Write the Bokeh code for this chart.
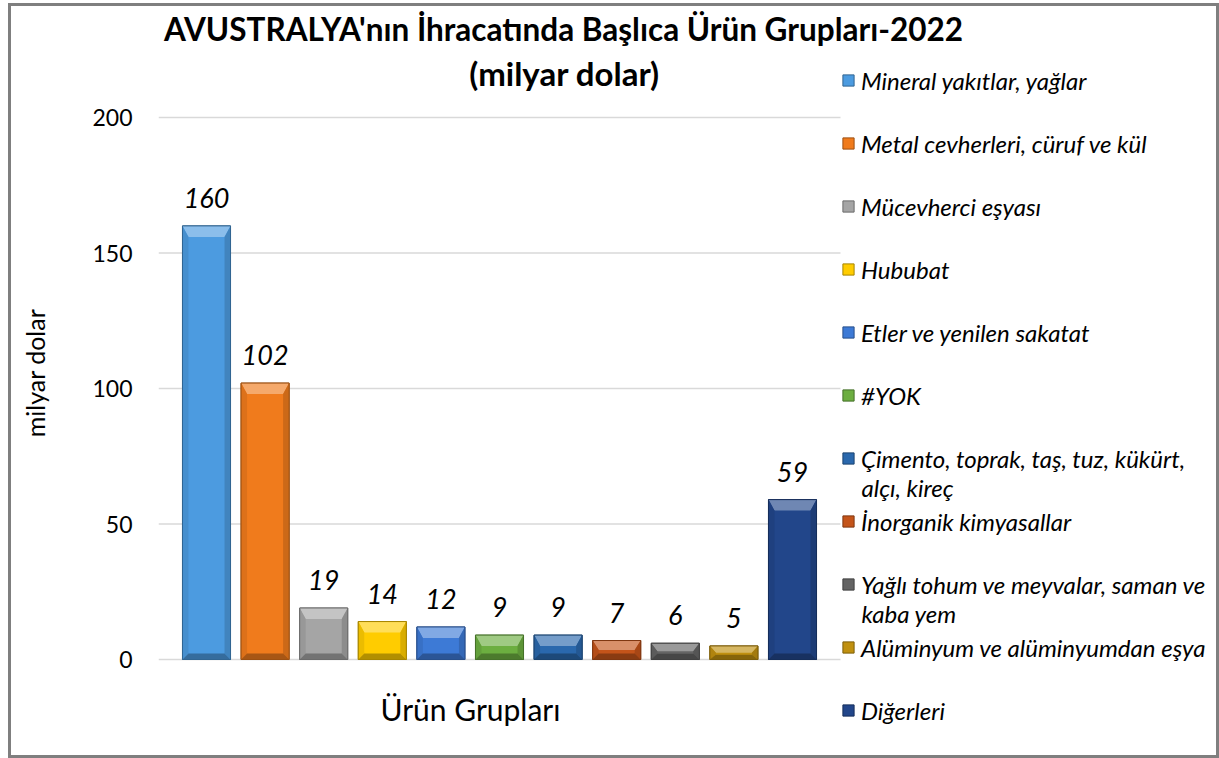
import textwrap
import numpy as np
from bokeh.plotting import figure
from bokeh.models import Range1d, Legend, LegendItem, Label, ColumnDataSource, FixedTicker
from bokeh.embed import file_html
from bokeh.resources import INLINE
from bokeh.core.properties import value

# ---- data ----
title_line1 = "AVUSTRALYA'nın İhracatında Başlıca Ürün Grupları-2022"
title_line2 = "(milyar dolar)"
y_title = "milyar dolar"
x_title = "Ürün Grupları"
categories = [
    "Mineral yakıtlar, yağlar",
    "Metal cevherleri, cüruf ve kül",
    "Mücevherci eşyası",
    "Hububat",
    "Etler ve yenilen sakatat",
    "#YOK",
    "Çimento, toprak, taş, tuz, kükürt, alçı, kireç",
    "İnorganik kimyasallar",
    "Yağlı tohum ve meyvalar, saman ve kaba yem",
    "Alüminyum ve alüminyumdan eşya",
    "Diğerleri",
]
values = [160, 102, 19, 14, 12, 9, 9, 7, 6, 5, 59]
y_ticks = [0, 50, 100, 150, 200]

colors = ["#4c9be0", "#f07b1c", "#a5a5a5", "#ffcc00", "#3d7ad6", "#6cae40",
          "#2a68ad", "#c4541a", "#646464", "#c0900f", "#22468a"]

FONT = "Lato"

# ---- layout constants (page px) ----
FIG_X, FIG_Y = 8, 3               # figure placed at this page position (via CSS margin)
BORDER = 3                        # CSS border width (border-box) -> canvas offset
W, H = 1211, 755
CAN_X, CAN_Y = FIG_X + BORDER, FIG_Y + BORDER
F_LEFT_PAGE = 158
F_BOTTOM_PAGE = 739
AXIS_W = F_LEFT_PAGE - CAN_X
FRAME_BOTTOM_PAD = H - (F_BOTTOM_PAGE - CAN_Y)
F_LEFT, F_RIGHT = F_LEFT_PAGE, CAN_X + W
F_TOP, F_BOTTOM = CAN_Y, F_BOTTOM_PAGE
ZERO_Y, TOP_Y, TOP_VAL = 659, 117, 200     # page y of value 0 and of value 200
BAR0_X, PITCH = 206, 58.6                  # page x of first bar centre, bar spacing
PA_LEFT, PA_RIGHT = 158, 840               # plot-area (gridline) extent, page x

px_y = (ZERO_Y - TOP_Y) / TOP_VAL
y0 = -(F_BOTTOM - ZERO_Y) / px_y
y1 = TOP_VAL + (TOP_Y - F_TOP) / px_y
x0 = (F_LEFT - BAR0_X) / PITCH
x1 = (F_RIGHT - BAR0_X) / PITCH
ga, gb = (PA_LEFT - BAR0_X) / PITCH, (PA_RIGHT - BAR0_X) / PITCH
px_x = PITCH
bar_w = 0.82


def sx(px):   # page x -> frame-relative screen x
    return px - F_LEFT


def sy(py):   # page y -> frame-relative screen y (upwards)
    return F_BOTTOM - py


def mix(hx, other, f):
    a = [int(hx[i:i + 2], 16) for i in (1, 3, 5)]
    b = [int(other[i:i + 2], 16) for i in (1, 3, 5)]
    c = [round(a[k] * (1 - f) + b[k] * f) for k in range(3)]
    return "#%02x%02x%02x" % tuple(c)


p = figure(width=W, height=H, output_backend="svg", toolbar_location=None,
           x_range=Range1d(x0, x1), y_range=Range1d(y0, y1),
           min_border_left=AXIS_W, min_border_right=0,
           min_border_top=0, min_border_bottom=FRAME_BOTTOM_PAD)
p.background_fill_color = "white"
p.border_fill_color = "white"
p.outline_line_color = None
p.styles = {"border": "%dpx solid #7f7f7f" % BORDER, "box-sizing": "border-box",
            "overflow": "hidden",
            "margin-left": "%dpx" % FIG_X, "margin-top": "%dpx" % FIG_Y}

p.xaxis.visible = False
p.xgrid.visible = False
p.ygrid.visible = False

ya = p.yaxis[0]
ya.ticker = FixedTicker(ticks=y_ticks)
ya.axis_line_color = None
ya.major_tick_line_color = None
ya.minor_tick_line_color = None
ya.major_tick_out = 0
ya.major_tick_in = 0
ya.minor_tick_out = 0
ya.major_label_standoff = 26
ya.major_label_text_font = FONT
ya.major_label_text_font_size = "23px"
ya.major_label_text_color = "#000000"
ya.axis_label = y_title
ya.axis_label_text_font = FONT
ya.axis_label_text_font_size = "25px"
ya.axis_label_text_font_style = "normal"
ya.axis_label_text_color = "#000000"
ya.axis_label_standoff = 39

# horizontal gridlines across the plot area at the axis ticks
p.segment(x0=ga, x1=gb, y0=y_ticks, y1=y_ticks, line_color="#d9d9d9", line_width=1.5)

xs = list(range(len(values)))
src = ColumnDataSource(dict(x=xs, top=values, color=colors,
                            edge=[mix(c, "#000000", 0.35) for c in colors],
                            label=[str(v) for v in values]))
body = p.vbar(x="x", top="top", width=bar_w, bottom=0, source=src,
              fill_color="color", line_color="edge", line_width=1)

# bevel faces
top_xs, top_ys, top_c = [], [], []
side_xs, side_ys, side_c = [], [], []
bot_xs, bot_ys, bot_c = [], [], []
for x, v, c in zip(xs, values, colors):
    hpx = v * px_y
    ht = min(11.0, 0.5 * hpx) / px_y
    hb = min(6.0, 0.35 * hpx) / px_y
    bx = 6.0 / px_x
    l, r = x - bar_w / 2, x + bar_w / 2
    top_xs.append([l, r, r - bx, l + bx]); top_ys.append([v, v, v - ht, v - ht]); top_c.append(mix(c, "#ffffff", 0.35))
    side_xs.append([l, l + bx, l + bx, l]); side_ys.append([v, v - ht, hb, 0]); side_c.append(mix(c, "#000000", 0.08))
    side_xs.append([r, r - bx, r - bx, r]); side_ys.append([v, v - ht, hb, 0]); side_c.append(mix(c, "#000000", 0.15))
    bot_xs.append([l, r, r - bx, l + bx]); bot_ys.append([0, 0, hb, hb]); bot_c.append(mix(c, "#000000", 0.3))
p.patches(top_xs, top_ys, fill_color=top_c, line_color=None)
p.patches(side_xs, side_ys, fill_color=side_c, line_color=None)
p.patches(bot_xs, bot_ys, fill_color=bot_c, line_color=None)
p.vbar(x="x", top="top", width=bar_w, bottom=0, source=src,
       fill_color=None, line_color="edge", line_width=1)

p.text(x="x", y="top", text="label", source=src, text_align="center",
       text_baseline="alphabetic", y_offset=-28, text_font=value(FONT),
       text_font_style="italic", text_font_size="27px", text_color="#000000")

# titles (vertical positions are visual centres)
p.add_layout(Label(x=sx(563), y=sy(28), x_units="screen", y_units="screen", text=title_line1,
                   text_align="center", text_baseline="middle", text_font=FONT,
                   text_font_style="bold", text_font_size="31.5px", text_color="#000000"))
p.add_layout(Label(x=sx(564), y=sy(72), x_units="screen", y_units="screen", text=title_line2,
                   text_align="center", text_baseline="middle", text_font=FONT,
                   text_font_style="bold", text_font_size="33px", text_color="#000000"))
p.add_layout(Label(x=sx(470), y=sy(708), x_units="screen", y_units="screen", text=x_title,
                   text_align="center", text_baseline="middle", text_font=FONT,
                   text_font_size="30px", text_color="#000000"))

# legend
LEG_X, LEG_FIRST_Y, LEG_PITCH, LEG_ITEM_H = 841, 80, 63, 34
LEG_FONT = "24px"
wrapped = [textwrap.wrap(c, 34) for c in categories]
items = [LegendItem(label=w[0], renderers=[body], index=i) for i, w in enumerate(wrapped)]
n = len(items)
leg_bottom = LEG_FIRST_Y - LEG_ITEM_H / 2 + n * LEG_ITEM_H + (n - 1) * (LEG_PITCH - LEG_ITEM_H)
leg = Legend(items=items, location=(sx(LEG_X), sy(leg_bottom)), glyph_width=14, glyph_height=14,
             label_standoff=6, spacing=LEG_PITCH - LEG_ITEM_H, label_height=LEG_ITEM_H,
             padding=0, margin=0, border_line_color=None, background_fill_alpha=0,
             label_text_font=FONT, label_text_font_style="italic",
             label_text_font_size=LEG_FONT, label_text_color="#000000")
p.add_layout(leg)

for i, w in enumerate(wrapped):
    if len(w) > 1:
        centre = LEG_FIRST_Y + i * LEG_PITCH + 28.5
        p.add_layout(Label(x=sx(LEG_X + 20), y=sy(centre), x_units="screen", y_units="screen",
                           text=w[1], text_align="left", text_baseline="middle",
                           text_font=FONT, text_font_style="italic",
                           text_font_size=LEG_FONT, text_color="#000000"))

open("out.html", "w").write(file_html(p, INLINE))
